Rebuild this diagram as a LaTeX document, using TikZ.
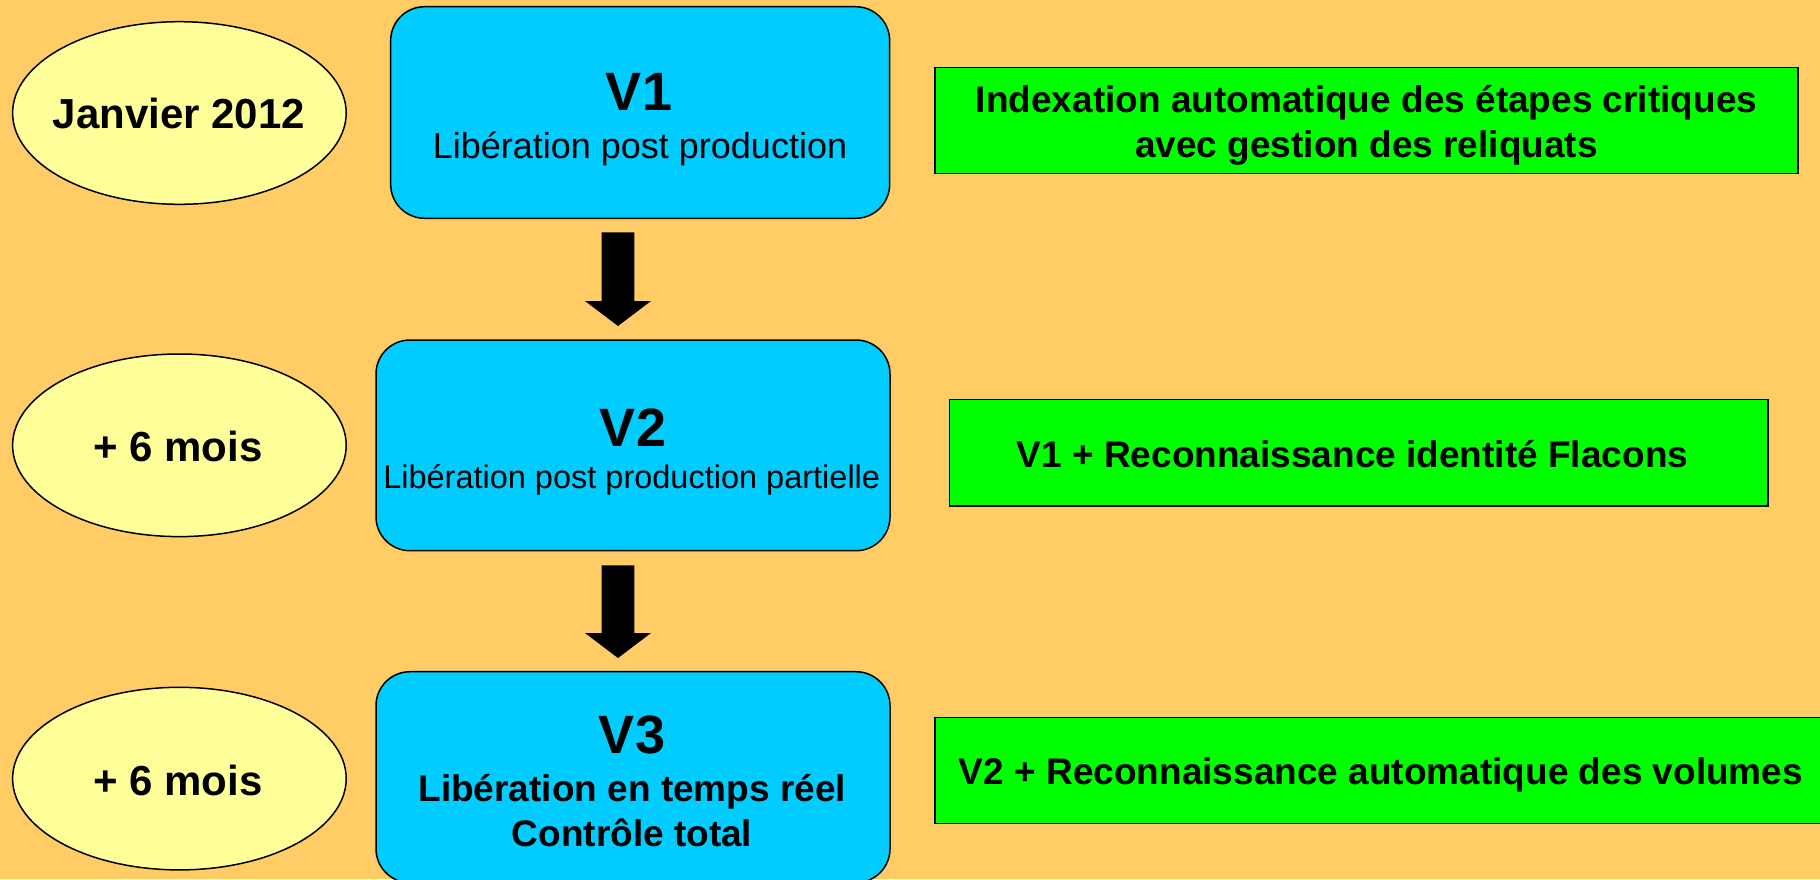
\documentclass[tikz,border=0pt]{standalone}
\usepackage{fontspec}
\setmainfont{Liberation Sans}
\usetikzlibrary{shapes.geometric,calc}
\definecolor{bgc}{HTML}{FFCC66}
\definecolor{ellc}{HTML}{FFFF99}
\definecolor{bluec}{HTML}{00CCFF}
\definecolor{greenc}{HTML}{00FF00}
\newcommand\myblockarrow[2]{%
  \fill[black] ($(#1)+(-16.3,0)$) -- ($(#1)+(16.3,0)$) -- ($(#2)+(16.3,-25)$)
    -- ($(#2)+(33,-25)$) -- (#2) -- ($(#2)+(-33,-25)$) -- ($(#2)+(-16.3,-25)$) -- cycle;}
\newcommand\fs[1]{\fontsize{#1}{#1}\selectfont}
\begin{document}
\begin{tikzpicture}[x=1pt,y=-1pt,
  datebox/.style={ellipse,draw=black,line width=1.5pt,fill=ellc,minimum width=333.6pt,minimum height=182.6pt,inner sep=0pt},
  verbox/.style={rectangle,draw=black,line width=1.5pt,fill=bluec,rounded corners=34pt,inner sep=0pt},
  featbox/.style={rectangle,draw=black,line width=1.3pt,fill=greenc,inner sep=0pt,minimum height=106.4pt},
  txt/.style={anchor=base,inner sep=0pt,text=black}]
\fill[bgc] (0,0) rectangle (1820,879);
\useasboundingbox (0,0) rectangle (1820,879);

% date ellipses
\node[datebox] (e1) at (179.4,113) {};
\node[datebox] (e2) at (179.4,445.3) {};
\node[datebox] (e3) at (179.4,778.6) {};
\node[txt] (e1t) at (179,128.3) {\fs{42}\bfseries Janvier 2012};
\node[txt] (e2t) at (178,461.7) {\fs{42}\bfseries + 6 mois};
\node[txt] (e3t) at (178,795) {\fs{42}\bfseries + 6 mois};

% version boxes
\node[verbox,minimum width=499pt,minimum height=211.6pt] (v1) at (640.15,112.5) {};
\node[verbox,minimum width=514pt,minimum height=210.7pt] (v2) at (633,445.35) {};
\node[verbox,minimum width=514pt,minimum height=211pt] (v3) at (633,777.2) {};

\node[txt] (v1a) at (639,110) {\fs{54}\bfseries V1};
\node[txt] (v1b) at (640,158.3) {\fs{36}Libération post production};
\node[txt] (v2a) at (633,446.7) {\fs{54}\bfseries V2};
\node[txt] (v2b) at (631.7,488.3) {\fs{32.5}Libération post production partielle};
\node[txt] (v3a) at (632,753) {\fs{54}\bfseries V3};
\node[txt] (v3b) at (632.3,801) {\fs{37}\bfseries Libération en temps réel};
\node[txt] (v3c) at (632,846.5) {\fs{37}\bfseries Contrôle total};

% feature boxes
\node[featbox,minimum width=863pt] (g1) at (1366.5,120.5) {};
\node[featbox,minimum width=818.5pt] (g2) at (1358.75,452.85) {};
\node[featbox,minimum width=893pt] (g3) at (1381.5,770.5) {};
\node[txt] (g1a) at (1366.5,112) {\fs{37}\bfseries Indexation automatique des étapes critiques};
\node[txt] (g1b) at (1366.5,157) {\fs{37}\bfseries avec gestion des reliquats};
\node[txt] (g2a) at (1352.5,467) {\fs{37}\bfseries V1 + Reconnaissance identité Flacons};
\node[txt] (g3a) at (1381,784) {\fs{37}\bfseries V2 + Reconnaissance automatique des volumes};

% block arrows
\coordinate (a1s) at (618,232.3);
\coordinate (a1e) at (618,326);
\coordinate (a2s) at (618,565.3);
\coordinate (a2e) at (618,658);
\myblockarrow{a1s}{a1e}
\myblockarrow{a2s}{a2e}
\end{tikzpicture}
\end{document}
